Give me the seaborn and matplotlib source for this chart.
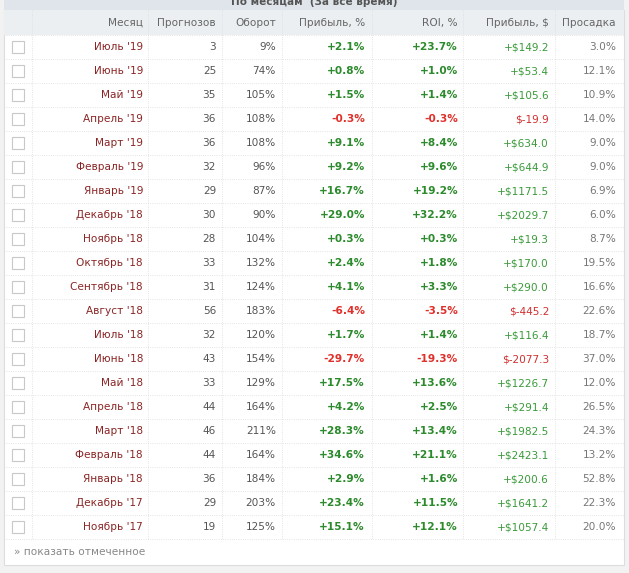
import matplotlib
matplotlib.use("Agg")
import matplotlib.pyplot as plt
import seaborn as sns
from matplotlib.patches import Rectangle

months = ["Июль '19", "Июнь '19", "Май '19", "Апрель '19", "Март '19", "Февраль '19",
          "Январь '19", "Декабрь '18", "Ноябрь '18", "Октябрь '18", "Сентябрь '18",
          "Август '18", "Июль '18", "Июнь '18", "Май '18", "Апрель '18", "Март '18",
          "Февраль '18", "Январь '18", "Декабрь '17", "Ноябрь '17"]
forecasts = [3, 25, 35, 36, 36, 32, 29, 30, 28, 33, 31, 56, 32, 43, 33, 44, 46, 44, 36, 29, 19]
turnover = [9, 74, 105, 108, 108, 96, 87, 90, 104, 132, 124, 183, 120, 154, 129, 164, 211, 164, 184, 203, 125]
profit_pct = [2.1, 0.8, 1.5, -0.3, 9.1, 9.2, 16.7, 29.0, 0.3, 2.4, 4.1, -6.4, 1.7, -29.7,
              17.5, 4.2, 28.3, 34.6, 2.9, 23.4, 15.1]
roi_pct = [23.7, 1.0, 1.4, -0.3, 8.4, 9.6, 19.2, 32.2, 0.3, 1.8, 3.3, -3.5, 1.4, -19.3,
           13.6, 2.5, 13.4, 21.1, 1.6, 11.5, 12.1]
profit_usd = [149.2, 53.4, 105.6, -19.9, 634.0, 644.9, 1171.5, 2029.7, 19.3, 170.0, 290.0,
              -445.2, 116.4, -2077.3, 1226.7, 291.4, 1982.5, 2423.1, 200.6, 1641.2, 1057.4]
drawdown = [3.0, 12.1, 10.9, 14.0, 9.0, 9.0, 6.9, 6.0, 8.7, 19.5, 16.6, 22.6, 18.7, 37.0,
            12.0, 26.5, 24.3, 13.2, 52.8, 22.3, 20.0]
headers = ["Месяц", "Прогнозов", "Оборот", "Прибыль, %", "ROI, %", "Прибыль, $", "Просадка"]

sns.set_theme(style="white")
plt.rcParams['font.family'] = ['DejaVu Sans']

W, H = 629, 573
fig = plt.figure(figsize=(W / 100, H / 100), dpi=100)
ax = fig.add_axes([0, 0, 1, 1])
ax.set_xlim(0, W)
ax.set_ylim(H, 0)
ax.axis("off")

fig.patch.set_facecolor("#f2f2f2")
ax.add_patch(Rectangle((4, 10), 620, 555, facecolor="white", edgecolor="#dddddd", lw=0.8))
# title bar (cut at the top edge as in the screenshot)
ax.add_patch(Rectangle((4, -2), 620, 12, facecolor="#dfe5ea", edgecolor="none"))
ax.text(314, 2, "По месяцам  (За всё время)", ha="center", va="center", fontsize=7.5,
        color="#555555", fontweight="bold")
# header
ax.add_patch(Rectangle((4, 10), 620, 25, facecolor="#eceff1", edgecolor="none"))

seps = [32, 148, 222, 282, 372, 463, 555]
rights = [143, 216, 276, 365, 458, 549, 616]
fs = 7.6
for h, r in zip(headers, rights):
    ax.text(r, 23, h, ha="right", va="center", fontsize=fs, color="#666666")

n = len(months)
top, step = 35, 24
for i in range(n):
    y0 = top + i * step
    yc = y0 + step / 2
    ax.plot([4, 624], [y0, y0], color="#dcdcdc", lw=0.6, ls=":")
    ax.add_patch(Rectangle((12, yc - 6), 12, 12, facecolor="white", edgecolor="#c8c8c8", lw=0.8))
    g = "#2b8a2b"
    rd = "#e0302a"
    ax.text(rights[0], yc, months[i], ha="right", va="center", fontsize=fs, color="#8b2525")
    ax.text(rights[1], yc, str(forecasts[i]), ha="right", va="center", fontsize=fs, color="#555555")
    ax.text(rights[2], yc, f"{turnover[i]}%", ha="right", va="center", fontsize=fs, color="#555555")
    p = profit_pct[i]
    ax.text(rights[3], yc, f"{p:+.1f}%", ha="right", va="center", fontsize=fs,
            color=g if p >= 0 else rd, fontweight="bold")
    r = roi_pct[i]
    ax.text(rights[4], yc, f"{r:+.1f}%", ha="right", va="center", fontsize=fs,
            color=g if r >= 0 else rd, fontweight="bold")
    u = profit_usd[i]
    s = f"+${u:.1f}" if u >= 0 else f"$-{abs(u):.1f}"
    ax.text(rights[5], yc, s, ha="right", va="center", fontsize=fs,
            color="#3a9a3a" if u >= 0 else "#d03030")
    ax.text(rights[6], yc, f"{drawdown[i]:.1f}%", ha="right", va="center", fontsize=fs, color="#777777")

bottom = top + n * step
ax.plot([4, 624], [bottom, bottom], color="#dcdcdc", lw=0.6, ls=":")
for x in seps:
    ax.plot([x, x], [10, bottom], color="#dcdcdc", lw=0.6, ls=":")
ax.text(14, 552, "» показать отмеченное", ha="left", va="center", fontsize=fs, color="#888888")

fig.savefig("out.png", dpi=100)
